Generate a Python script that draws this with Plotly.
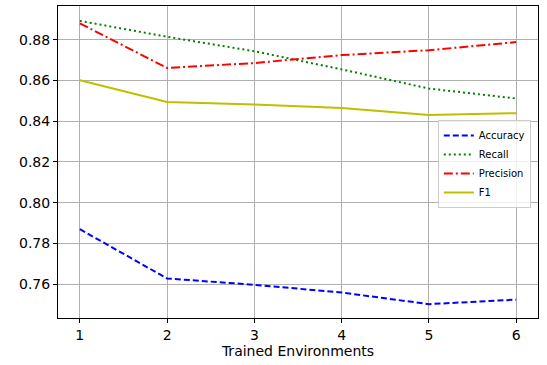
import plotly.graph_objects as go

envs = [1, 2, 3, 4, 5, 6]
accuracy = [0.7870, 0.7628, 0.7597, 0.7559, 0.7502, 0.7524]
recall = [0.8892, 0.8814, 0.8743, 0.8654, 0.8560, 0.8511]
precision = [0.8880, 0.8661, 0.8685, 0.8724, 0.8748, 0.8788]
f1 = [0.8601, 0.8494, 0.8482, 0.8465, 0.8430, 0.8439]

y_ticks = [0.76, 0.78, 0.80, 0.82, 0.84, 0.86, 0.88]
x_ticks = [1, 2, 3, 4, 5, 6]

fig = go.Figure()
fig.add_trace(go.Scatter(x=envs, y=accuracy, name="Accuracy", mode="lines",
                         line=dict(color="#0000ff", width=2, dash="6px,3px")))
fig.add_trace(go.Scatter(x=envs, y=recall, name="Recall", mode="lines",
                         line=dict(color="#008000", width=2, dash="2px,3px")))
fig.add_trace(go.Scatter(x=envs, y=precision, name="Precision", mode="lines",
                         line=dict(color="#ff0000", width=2, dash="9px,3px,2px,3px")))
fig.add_trace(go.Scatter(x=envs, y=f1, name="F1", mode="lines",
                         line=dict(color="#bfbf00", width=2)))

font = "DejaVu Sans"
fig.update_layout(
    width=547, height=365,
    margin=dict(l=57.5, r=8.5, t=6, b=47),
    plot_bgcolor="white", paper_bgcolor="white",
    font=dict(family=font, size=14, color="black"),
    showlegend=True,
    legend=dict(x=0.985, xanchor="right", y=0.635, yanchor="top",
                bgcolor="rgba(255,255,255,0.8)", bordercolor="#cccccc", borderwidth=1,
                font=dict(size=10, family=font), tracegroupgap=0, itemwidth=30),
)
fig.update_xaxes(range=[0.75, 6.25], tickvals=x_ticks, ticktext=[str(v) for v in x_ticks],
                 showgrid=True, gridcolor="#b0b0b0", gridwidth=1,
                 showline=True, linecolor="black", linewidth=1, mirror=True,
                 ticks="outside", ticklen=4, tickcolor="black",
                 zeroline=False, tickfont=dict(size=14),
                 title=dict(text="Trained Environments", font=dict(size=14), standoff=4))
fig.update_yaxes(range=[0.7434, 0.8965], tickvals=y_ticks, ticktext=[f"{v:.2f}" for v in y_ticks],
                 showgrid=True, gridcolor="#b0b0b0", gridwidth=1,
                 showline=True, linecolor="black", linewidth=1, mirror=True,
                 ticks="outside", ticklen=4, tickcolor="black",
                 zeroline=False, tickfont=dict(size=14))

fig.write_html("out.html")
